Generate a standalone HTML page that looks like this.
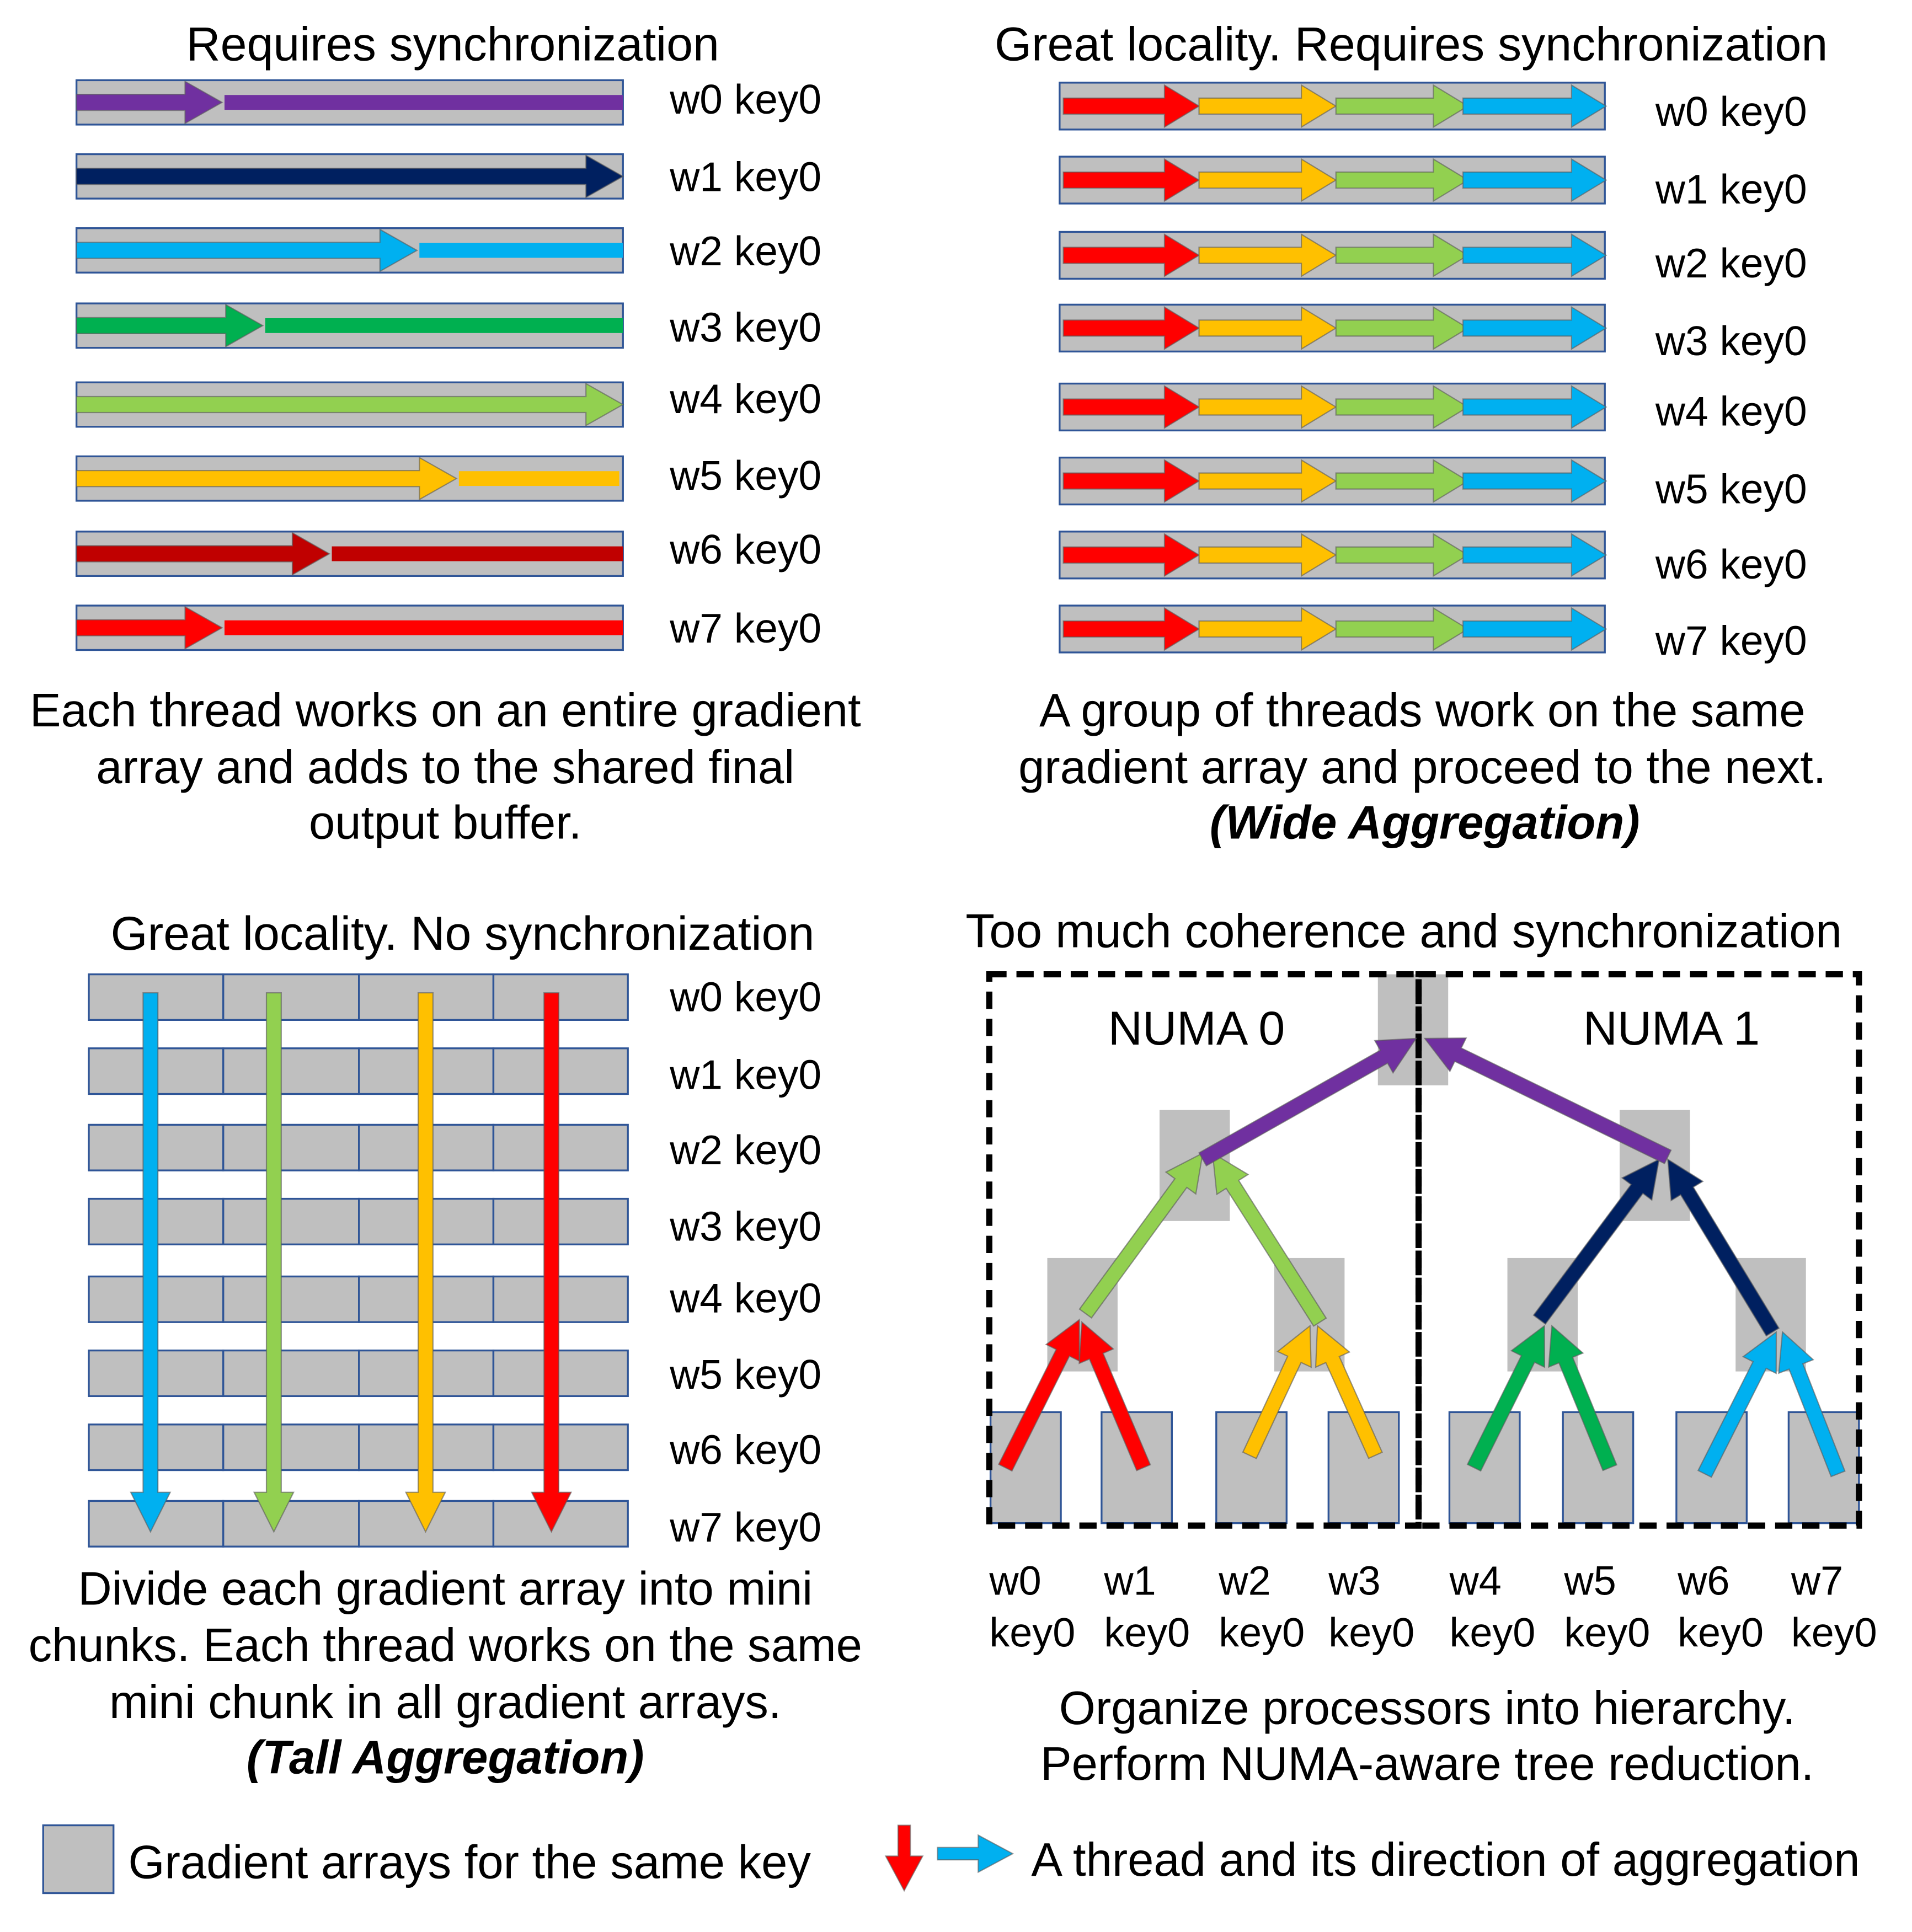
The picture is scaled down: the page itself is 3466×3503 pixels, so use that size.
<!DOCTYPE html>
<html><head><meta charset="utf-8"><style>
html,body{margin:0;padding:0;background:#fff}
svg{display:block}
text{font-family:"Liberation Sans",Arial,sans-serif;fill:#000}
</style></head><body>
<svg id="s" width="3466" height="3503" viewBox="0 0 1550 1566.5" xmlns="http://www.w3.org/2000/svg">
<g id="g"></g>
</svg>
<script>
const NS="http://www.w3.org/2000/svg";
const G=document.getElementById('g');
const C={purple:'#7030a0',navy:'#002060',blue:'#00b0f0',green:'#00b050',lg:'#92d050',yel:'#ffc000',dred:'#c00000',red:'#ff0000',gray:'#bfbfbf',bd:'#2f5597'};
function mk(tag,attrs,name){const e=document.createElementNS(NS,tag);for(const k in attrs)e.setAttribute(k,attrs[k]);


G.appendChild(e);return e;}
function txt(x,y,s,size,anchor,name,style){const t=mk('text',{x:x,y:y,'font-size':size,'text-anchor':anchor||'start'},name);if(style){t.setAttribute('font-weight','bold');t.setAttribute('font-style','italic');}t.textContent=s;return t;}
function rect(x,y,w,h,fill,stroke,name){return mk('rect',{x:x,y:y,width:w,height:h,fill:fill,stroke:stroke||'none','stroke-width':stroke?1.5:0},name);}
function arrow(x1,y1,x2,y2,col,w,hw,hl,name){
 const dx=x2-x1,dy=y2-y1,L=Math.hypot(dx,dy),ux=dx/L,uy=dy/L,px=-uy,py=ux;
 const bx=x2-ux*hl,by=y2-uy*hl;
 const pts=[[x1+px*w/2,y1+py*w/2],[bx+px*w/2,by+py*w/2],[bx+px*hw/2,by+py*hw/2],[x2,y2],[bx-px*hw/2,by-py*hw/2],[bx-px*w/2,by-py*w/2],[x1-px*w/2,y1-py*w/2]];
 return mk('polygon',{points:pts.map(p=>p.join(',')).join(' '),fill:col,stroke:'rgba(90,90,90,0.6)','stroke-width':1},name);
}
function line(x1,y,x2,col,w,name){return mk('rect',{x:x1,y:y-w/2,width:x2-x1,height:w,fill:col},name);}
const TS=38.5, CS=38, LS=33.5;

// ---------- Top-left
txt(367,49,'Requires synchronization',TS,'middle','top-left-title');
const tlTops=[65,125,185,246,310,370,431,491];
const tlCols=[C.purple,C.navy,C.blue,C.green,C.lg,C.yel,C.dred,C.red];
const tlTips=[180,505,338,213,505,370,267,180];
const tlBase=[92,155,215,277,335,397,457,521];
tlTops.forEach((t,i)=>{
 rect(62,t,443,36,C.gray,C.bd,'gradient-array-w'+i);
 const cy=t+18;
 arrow(62,cy,tlTips[i],cy,tlCols[i],13,34,30,'thread-arrow-w'+i);
 if(tlTips[i]<500) line(tlTips[i]+2,cy,i==5?502:505,tlCols[i],12,'thread-continue-w'+i);
 txt(543,tlBase[i],'w'+i+' key0',LS,'start','label-w'+i);
});
txt(361,589,'Each thread works on an entire gradient',CS,'middle','tl-caption-1');
txt(361,635,'array and adds to the shared final',CS,'middle','tl-caption-2');
txt(361,680,'output buffer.',CS,'middle','tl-caption-3');

// ---------- Top-right
txt(1144,49,'Great locality. Requires synchronization',TS,'middle','top-right-title');
const trTops=[67,127,188,247,311,371,431,491];
const trBase=[102,165,225,288,345,408,469,531];
trTops.forEach((t,i)=>{
 rect(859,t,442,38,C.gray,C.bd,'wide-array-'+i);
 const cy=t+19;
 arrow(862,cy,972,cy,C.red,13,34,28,'wide-red-'+i);
 arrow(972,cy,1083,cy,C.yel,13,34,28,'wide-yellow-'+i);
 arrow(1083,cy,1190,cy,C.lg,13,34,28,'wide-green-'+i);
 arrow(1186,cy,1302,cy,C.blue,13,34,28,'wide-blue-'+i);
 txt(1342,trBase[i],'w'+i+' key0',LS,'start','wide-label-w'+i);
});
txt(1153,589,'A group of threads work on the same',CS,'middle','tr-caption-1');
txt(1153,635,'gradient array and proceed to the next.',CS,'middle','tr-caption-2');
txt(1155,680,'(Wide Aggregation)',CS,'middle','tr-caption-3',true);

// ---------- Bottom-left
txt(375,770,'Great locality. No synchronization',TS,'middle','bottom-left-title');
const blTops=[790,850,912,972,1035,1095,1155,1217];
const blBase=[820,883,944,1006,1064,1126,1187,1250];
const cellX=[72,181,291,400,509];
blTops.forEach((t,i)=>{
 for(let c=0;c<4;c++) rect(cellX[c],t,cellX[c+1]-cellX[c],37,C.gray,C.bd,'chunk-r'+i+'-c'+c);
 txt(543,blBase[i],'w'+i+' key0',LS,'start','tall-label-w'+i);
});
[[122,C.blue],[222,C.lg],[345,C.yel],[447,C.red]].forEach((a,i)=>arrow(a[0],805,a[0],1242,a[1],12,32,32,'tall-thread-arrow-'+i));
txt(361,1301,'Divide each gradient array into mini',CS,'middle','bl-caption-1');
txt(361,1347,'chunks. Each thread works on the same',CS,'middle','bl-caption-2');
txt(361,1393,'mini chunk in all gradient arrays.',CS,'middle','bl-caption-3');
txt(361,1438,'(Tall Aggregation)',CS,'middle','bl-caption-4',true);

// ---------- Bottom-right
txt(1138,768,'Too much coherence and synchronization',TS,'middle','bottom-right-title');
rect(1117,790,57,90,C.gray,null,'root-node');
rect(940,900,57,90,C.gray,null,'numa0-node');
rect(1313,900,57,90,C.gray,null,'numa1-node');
[849,1033,1222,1407].forEach((x,i)=>rect(x,1020,57,92,C.gray,null,'mid-node-'+i));
const leafX=[803,893,986,1077,1175,1267,1359,1450];
leafX.forEach((x,i)=>rect(x,1145,57,90,C.gray,C.bd,'leaf-node-w'+i));
mk('rect',{x:802,y:790,width:348,height:447,fill:'none',stroke:'#000','stroke-width':5,'stroke-dasharray':'14 8'},'numa0-box');
mk('rect',{x:1150,y:790,width:357,height:447,fill:'none',stroke:'#000','stroke-width':5,'stroke-dasharray':'14 8'},'numa1-box');
txt(970,847,'NUMA 0',TS,'middle','numa0-label');
txt(1355,847,'NUMA 1',TS,'middle','numa1-label');
const tw=12,thw=30,thl=30;
arrow(815,1190,875,1070,C.red,tw,thw,thl,'tree-arrow-w0');
arrow(927,1190,877,1072,C.red,tw,thw,thl,'tree-arrow-w1');
arrow(1013,1180,1062,1075,C.yel,tw,thw,thl,'tree-arrow-w2');
arrow(1115,1180,1068,1075,C.yel,tw,thw,thl,'tree-arrow-w3');
arrow(1195,1190,1252,1075,C.green,tw,thw,thl,'tree-arrow-w4');
arrow(1305,1190,1258,1075,C.green,tw,thw,thl,'tree-arrow-w5');
arrow(1382,1195,1440,1080,C.blue,tw,thw,thl,'tree-arrow-w6');
arrow(1490,1195,1445,1080,C.blue,tw,thw,thl,'tree-arrow-w7');
arrow(880,1065,975,935,C.lg,tw,thw,thl,'tree-arrow-l2-0');
arrow(1070,1072,983,935,C.lg,tw,thw,thl,'tree-arrow-l2-1');
arrow(1248,1070,1345,940,C.navy,tw,thw,thl,'tree-arrow-l2-2');
arrow(1437,1080,1352,940,C.navy,tw,thw,thl,'tree-arrow-l2-3');
arrow(975,940,1148,842,C.purple,tw,thw,thl,'tree-arrow-root-0');
arrow(1352,938,1155,842,C.purple,tw,thw,thl,'tree-arrow-root-1');
const lblX=[802,895,988,1077,1175,1268,1360,1452];
lblX.forEach((x,i)=>{txt(x,1293,'w'+i,33,'start','tree-label-w'+i);txt(x,1335,'key0',33,'start','tree-label-key-'+i);});
txt(1157,1398,'Organize processors into hierarchy.',CS,'middle','br-caption-1');
txt(1157,1443,'Perform NUMA-aware tree reduction.',CS,'middle','br-caption-2');

// ---------- Legend
rect(35,1480,57,55,C.gray,C.bd,'legend-gradient-swatch');
txt(104,1523,'Gradient arrays for the same key',CS,'start','legend-gradient-text');
arrow(733,1480,733,1533,C.red,10,30,28,'legend-red-arrow');
arrow(760,1503,821,1503,C.blue,10,30,28,'legend-blue-arrow');
txt(836,1521,'A thread and its direction of aggregation',CS,'start','legend-thread-text');
</script>
</body></html>
